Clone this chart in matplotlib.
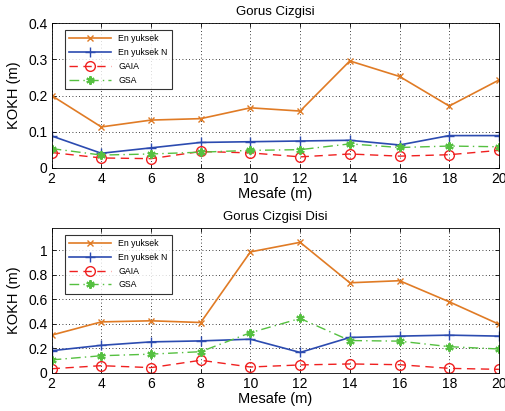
import matplotlib
matplotlib.use("Agg")
import matplotlib.pyplot as plt

plt.rcParams['font.family'] = ['Liberation Sans', 'DejaVu Sans']

mesafe = [2, 4, 6, 8, 10, 12, 14, 16, 18, 20]
labels = ["En yuksek", "En yuksek N", "GAIA", "GSA"]

top_en = [0.200, 0.113, 0.132, 0.136, 0.166, 0.157, 0.296, 0.253, 0.171, 0.243]
top_n = [0.088, 0.040, 0.055, 0.070, 0.072, 0.074, 0.076, 0.063, 0.089, 0.089]
top_gaia = [0.042, 0.027, 0.025, 0.045, 0.041, 0.030, 0.038, 0.032, 0.036, 0.048]
top_gsa = [0.053, 0.035, 0.038, 0.043, 0.048, 0.050, 0.066, 0.056, 0.060, 0.058]

bot_en = [0.307, 0.415, 0.424, 0.410, 0.986, 1.064, 0.734, 0.751, 0.579, 0.396]
bot_n = [0.180, 0.224, 0.252, 0.260, 0.274, 0.166, 0.288, 0.299, 0.307, 0.299]
bot_gaia = [0.033, 0.058, 0.042, 0.102, 0.047, 0.064, 0.072, 0.066, 0.036, 0.028]
bot_gsa = [0.105, 0.139, 0.152, 0.172, 0.327, 0.443, 0.263, 0.258, 0.213, 0.194]

top_yticks = [0, 0.1, 0.2, 0.3, 0.4]
bot_yticks = [0, 0.2, 0.4, 0.6, 0.8, 1]

c_en = '#E07B25'
c_n = '#2C4BB0'
c_gaia = '#F02020'
c_gsa = '#55C040'

fig = plt.figure(figsize=(5.06, 4.11), dpi=100)
ax1 = fig.add_axes([0.102, 0.592, 0.884, 0.351])
ax2 = fig.add_axes([0.102, 0.093, 0.884, 0.352])

def draw(ax, en, n, gaia, gsa, ylim, yticks, title):
    ax.plot(mesafe, en, color=c_en, lw=1.2, marker='x', ms=4.5, mew=1.0, label=labels[0])
    ax.plot(mesafe, n, color=c_n, lw=1.2, marker='+', ms=6.5, mew=1.0, label=labels[1])
    ax.plot(mesafe, gaia, color=c_gaia, lw=1.0, ls=(0, (6, 4)), marker='o', ms=7,
            mfc='none', mew=1.0, label=labels[2])
    ax.plot(mesafe, gsa, color=c_gsa, lw=1.0, ls=(0, (7, 3, 1, 3)), marker=(6, 2, 0), ms=6,
            mew=1.5, label=labels[3])
    ax.set_xlim(2, 20)
    ax.set_ylim(*ylim)
    ax.set_xticks(mesafe)
    ax.set_yticks(yticks)
    ax.set_yticklabels([f"{t:g}" for t in yticks])
    ax.grid(True, color='black', ls=(0, (1, 3)), lw=0.6)
    ax.tick_params(direction='in', top=True, right=True, labelsize=10, length=3, width=0.6,
                   pad=3)
    for s in ax.spines.values():
        s.set_linewidth(0.6)
    ax.set_xlabel("Mesafe (m)", fontsize=10.5, labelpad=1)
    ax.set_ylabel("KOKH (m)", fontsize=10.5, labelpad=5)
    ax.set_title(title, fontsize=9.5, pad=6)
    leg = ax.legend(loc='upper left', fontsize=6.3, frameon=True, fancybox=False,
                    edgecolor='black', handlelength=4.8, borderpad=0.5,
                    labelspacing=0.55, bbox_to_anchor=(0.02, 0.985))
    leg.get_frame().set_linewidth(0.8)

draw(ax1, top_en, top_n, top_gaia, top_gsa, (0, 0.4), top_yticks, "Gorus Cizgisi")
draw(ax2, bot_en, bot_n, bot_gaia, bot_gsa, (0, 1.18), bot_yticks, "Gorus Cizgisi Disi")

fig.savefig("out.png", dpi=100)
